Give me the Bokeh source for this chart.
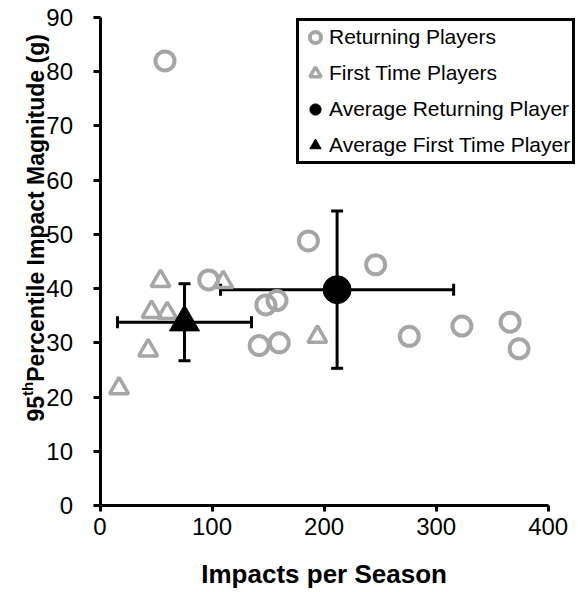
import math
from bokeh.plotting import figure
from bokeh.models import (Range1d, FixedTicker, Legend, LegendItem, Whisker,
                          TeeHead, ColumnDataSource)
from bokeh.core.properties import value
from bokeh.embed import file_html
from bokeh.resources import INLINE

# ---- data ----
returning_x = [58, 97, 186, 246, 148, 158, 142, 160, 276, 323, 366, 374]
returning_y = [82.0, 41.6, 48.8, 44.4, 37.0, 37.8, 29.5, 30.0, 31.2, 33.1, 33.8, 28.9]

first_x = [54, 46, 60, 43, 17, 110, 194]
first_y = [41.4, 35.7, 35.5, 28.6, 21.6, 41.2, 31.1]

avg_returning_x = [211.6]
avg_returning_y = [39.8]
avg_returning_sd_x = [104.0]
avg_returning_sd_y = [14.5]

avg_first_x = [75.4]
avg_first_y = [33.8]
avg_first_sd_x = [59.8]
avg_first_sd_y = [7.1]

x_ticks = [0, 100, 200, 300, 400]
y_ticks = [0, 10, 20, 30, 40, 50, 60, 70, 80, 90]

y_title_parts = ["95", "th", " Percentile Impact Magnitude (g)"]
x_title = "Impacts per Season"

GRAY = "#a6a6a6"
FONT = "Liberation Sans"

# ---- geometry: the frame covers the whole canvas, axes are pinned at 0 ----
W, H = 578, 592
AXIS_X_PX = 99.5                      # pixel column of x = 0
AXIS_Y_PX = 505.0                     # pixel row of y = 0
PX_PER_X = 448.2 / 400.0
PX_PER_Y = 488.0 / 90.0
X_START = -AXIS_X_PX / PX_PER_X
X_END = (W - AXIS_X_PX) / PX_PER_X
Y_START = -(H - AXIS_Y_PX) / PX_PER_Y
Y_END = AXIS_Y_PX / PX_PER_Y

p = figure(width=W, height=H, output_backend="svg", toolbar_location=None,
           x_range=Range1d(X_START, X_END), y_range=Range1d(Y_START, Y_END),
           min_border=0)
p.outline_line_color = None
p.grid.visible = False
p.background_fill_color = "white"
p.border_fill_color = "white"

for ax in (p.xaxis[0], p.yaxis[0]):
    ax.axis_line_width = 3
    ax.axis_line_color = "black"
    ax.major_tick_line_width = 3
    ax.major_tick_line_color = "black"
    ax.major_tick_in = 0
    ax.minor_tick_line_color = None
    ax.major_label_text_font = FONT
    ax.major_label_text_font_size = "24px"
    ax.major_label_text_color = "black"
    ax.fixed_location = 0

p.xaxis[0].ticker = FixedTicker(ticks=x_ticks)
p.xaxis[0].bounds = (0, 400)
p.xaxis[0].major_tick_out = 6
p.xaxis[0].major_label_standoff = 6

p.yaxis[0].ticker = FixedTicker(ticks=y_ticks)
p.yaxis[0].bounds = (0, 90)
p.yaxis[0].major_tick_out = 7
p.yaxis[0].major_label_standoff = 20

# ---- points ----
r_ret = p.scatter(returning_x, returning_y, marker="circle", size=19,
                  fill_color=None, line_color=GRAY, line_width=4)
r_first = p.scatter(first_x, first_y, marker="triangle", size=19,
                    fill_color=None, line_color=GRAY, line_width=3.5)

# ---- error bars ----
def add_bars(xs, ys, sx, sy):
    src = ColumnDataSource(dict(
        x=xs, y=ys,
        xl=[a - b for a, b in zip(xs, sx)], xu=[a + b for a, b in zip(xs, sx)],
        yl=[a - b for a, b in zip(ys, sy)], yu=[a + b for a, b in zip(ys, sy)]))
    for base, lo, up, dim in (("y", "xl", "xu", "width"), ("x", "yl", "yu", "height")):
        w = Whisker(source=src, base=base, lower=lo, upper=up, dimension=dim,
                    line_width=3, line_color="black",
                    upper_head=TeeHead(size=12, line_width=3, line_color="black"),
                    lower_head=TeeHead(size=12, line_width=3, line_color="black"))
        p.add_layout(w)

add_bars(avg_returning_x, avg_returning_y, avg_returning_sd_x, avg_returning_sd_y)
add_bars(avg_first_x, avg_first_y, avg_first_sd_x, avg_first_sd_y)

r_avg_ret = p.scatter(avg_returning_x, avg_returning_y, marker="circle", size=28,
                      fill_color="black", line_color="black")
r_avg_first = p.scatter(avg_first_x, avg_first_y, marker="triangle", size=30,
                        fill_color="black", line_color="black")

# ---- legend (bottom-left corner given in frame pixels) ----
LEG_LEFT_PX, LEG_BOTTOM_PX = 296, 164
legend = Legend(items=[
    LegendItem(label="Returning Players", renderers=[r_ret]),
    LegendItem(label="First Time Players", renderers=[r_first]),
    LegendItem(label="Average Returning Player", renderers=[r_avg_ret]),
    LegendItem(label="Average First Time Player", renderers=[r_avg_first]),
], location=(LEG_LEFT_PX, H - LEG_BOTTOM_PX))
legend.border_line_color = "black"
legend.border_line_width = 3
legend.border_line_alpha = 1
legend.background_fill_color = "white"
legend.background_fill_alpha = 1
legend.label_text_font = FONT
legend.label_text_font_size = "21px"
legend.label_text_color = "black"
legend.glyph_width = 28
legend.glyph_height = 28
legend.label_standoff = -8
legend.padding = 2
legend.spacing = 8
legend.margin = 0
p.add_layout(legend)

# ---- axis titles as text ----
def px_x(px):
    return (px - AXIS_X_PX) / PX_PER_X

def px_y(py):
    return (AXIS_Y_PX - py) / PX_PER_Y

p.text(x=[200], y=[px_y(573)], text=[x_title],
       text_font=value(FONT), text_font_style="bold",
       text_font_size=value("26px"), text_color="black",
       text_align="center", text_baseline="middle")

main_size = 23
sup_size = 15
base_px = 35          # baseline column (px from left)
start_py = 421        # where the title starts (px from top)
w95 = 1.112 * main_size
wth = 0.944 * sup_size

for txt, size, bx, py in (
        (y_title_parts[0], main_size, base_px, start_py),
        (y_title_parts[1], sup_size, base_px - 8, start_py - w95),
        (y_title_parts[2], main_size, base_px, start_py - w95 - wth)):
    p.text(x=[px_x(bx)], y=[px_y(py)], text=[txt], angle=math.pi / 2,
           text_font=value(FONT), text_font_style="bold",
           text_font_size=value(f"{size}px"), text_color="black",
           text_align="left", text_baseline="alphabetic")

open("out.html", "w").write(file_html(p, INLINE))
